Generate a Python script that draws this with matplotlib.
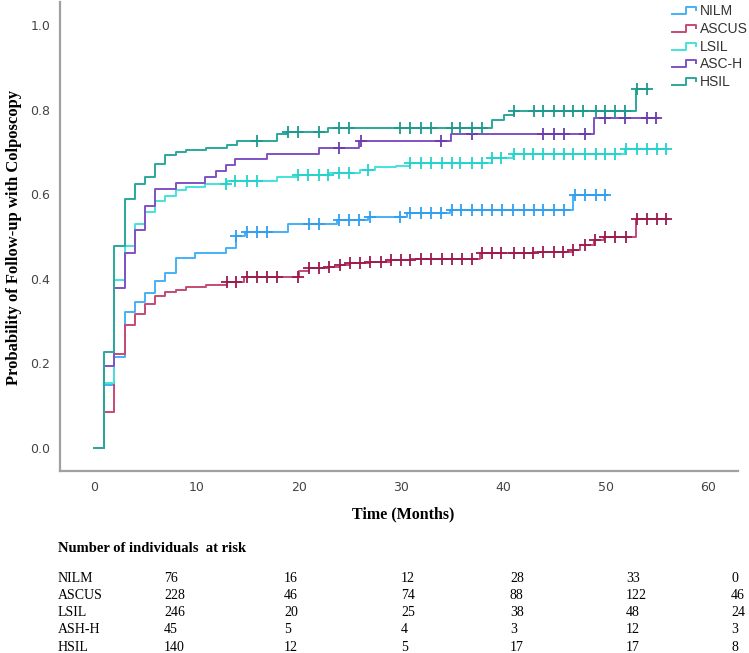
import numpy as np
import matplotlib
matplotlib.use('Agg')
import matplotlib.pyplot as plt
from matplotlib.lines import Line2D

W, H = 749, 653

groups = ['NILM', 'ASCUS', 'LSIL', 'ASC-H', 'HSIL']
line_colors = ['#45b1f7', '#c64a74', '#45e3dc', '#7f52c4', '#2aa99c']
mark_colors = ['#2f9ff0', '#9c1a4c', '#22d3cc', '#6a3bb0', '#1d9a8d']

# step curves: event times and cumulative probability after each step
nilm_t = [0, 1, 2, 3, 4, 5, 6, 7, 8, 9.9, 12.9, 13.9, 14.8, 19, 23.7, 26.8, 30.6, 34.8, 46.8, 50.1]
nilm_v = [0, 0.15, 0.216, 0.322, 0.346, 0.366, 0.395, 0.414, 0.45, 0.462, 0.474, 0.501, 0.511,
          0.53, 0.539, 0.545, 0.555, 0.563, 0.598, 0.598]
nilm_c = [13.9, 15, 15.9, 16.9, 21, 22, 23.9, 24.9, 25.9, 27, 29.9, 30.9, 31.9, 32.9, 33.9, 35,
          35.9, 36.9, 37.9, 38.9, 39.9, 40.9, 42, 43, 43.9, 44.9, 45.9, 47, 48, 49, 49.9]

ascus_t = [0, 1, 2, 3, 4, 5, 6, 7, 8, 9, 11, 13, 14.7, 20, 21, 23, 24, 25, 27, 29, 31, 37.7,
           43, 46.8, 47.5, 48.8, 49.8, 52.9, 56.1]
ascus_v = [0, 0.085, 0.222, 0.291, 0.317, 0.34, 0.359, 0.368, 0.373, 0.38, 0.385, 0.392, 0.405,
           0.418, 0.425, 0.429, 0.433, 0.438, 0.44, 0.444, 0.448, 0.46, 0.464, 0.468, 0.48,
           0.492, 0.498, 0.541, 0.541]
ascus_c = [13, 13.9, 15, 15.9, 16.9, 17.9, 19.9, 21, 22, 23, 24, 25, 26, 27, 28, 29, 30, 30.9,
           31.9, 32.9, 34, 35, 36, 36.9, 37.9, 38.9, 39.8, 41, 42, 42.9, 43.9, 44.9, 45.8, 46.8,
           48, 48.9, 49.9, 50.9, 52, 53, 54, 55, 55.9]

lsil_t = [0, 1, 2, 3, 4, 5, 6, 7, 8, 9, 10.9, 13, 17.9, 19.9, 23, 26, 27.5, 29.5, 30.9, 38.9,
          40.9, 51.9, 56.1]
lsil_v = [0, 0.153, 0.397, 0.478, 0.53, 0.558, 0.584, 0.596, 0.61, 0.616, 0.623, 0.631, 0.64,
          0.646, 0.65, 0.658, 0.664, 0.667, 0.673, 0.685, 0.695, 0.707, 0.707]
lsil_c = [12.9, 13.8, 15, 15.9, 19.9, 20.9, 22, 22.9, 23.9, 24.9, 26.8, 30.9, 31.9, 32.9, 34,
          35, 35.8, 36.9, 37.9, 38.9, 39.8, 41, 42, 42.9, 43.9, 44.9, 45.9, 46.8, 48, 49, 49.9,
          50.9, 52, 53, 54, 55, 55.9]

asch_t = [0, 1, 2, 3, 4, 5, 6, 8, 10.9, 11.9, 12.9, 13.8, 16.9, 22, 25.9, 34.9, 48.8, 55.1]
asch_v = [0, 0.195, 0.379, 0.46, 0.515, 0.571, 0.612, 0.627, 0.641, 0.655, 0.67, 0.682, 0.696,
          0.709, 0.725, 0.742, 0.779, 0.779]
asch_c = [23.9, 26.1, 33.9, 36.9, 43.9, 44.9, 45.9, 48, 49.9, 51.9, 54, 54.9]

hsil_t = [0, 1, 2, 3, 4, 5, 6, 7, 8, 9, 11, 13, 14, 17.9, 18.9, 22.9, 38.9, 40.1, 41, 52.9, 54.1]
hsil_v = [0, 0.228, 0.478, 0.588, 0.624, 0.641, 0.671, 0.693, 0.699, 0.704, 0.71, 0.716, 0.726,
          0.742, 0.748, 0.756, 0.775, 0.787, 0.797, 0.848, 0.848]
hsil_c = [15.9, 19, 19.9, 22, 23.9, 24.9, 29.9, 30.9, 31.9, 32.9, 35, 35.8, 36.9, 37.9, 41,
          43, 43.9, 44.9, 45.9, 46.8, 47.8, 49, 49.9, 50.9, 51.9, 53, 54]

times = [nilm_t, ascus_t, lsil_t, asch_t, hsil_t]
values = [nilm_v, ascus_v, lsil_v, asch_v, hsil_v]
censors = [nilm_c, ascus_c, lsil_c, asch_c, hsil_c]

# number at risk table
risk_rows = ['NILM', 'ASCUS', 'LSIL', 'ASH-H', 'HSIL']
risk_vals = [[76, 16, 12, 28, 33, 0],
             [228, 46, 74, 88, 122, 46],
             [246, 20, 25, 38, 48, 24],
             [45, 5, 4, 3, 12, 3],
             [140, 12, 5, 17, 17, 8]]


def fx(px):
    return px / W


def fy(py):
    return 1 - py / H


fig = plt.figure(figsize=(W / 100, H / 100), dpi=100)
ax = fig.add_axes([fx(60), fy(471), fx(738) - fx(60), fy(2) - fy(471)])

# draw curves, last group on top like the reference
for i in range(len(groups)):
    t = np.array(times[i])
    v = np.array(values[i])
    ax.step(t, v, where='post', color=line_colors[i], lw=1.4, zorder=2 + i)
    c = np.array(censors[i])
    idx = np.searchsorted(t, c, side='right') - 1
    ax.plot(c, v[idx], ls='none', marker='+', ms=8, mew=1.3,
            color=mark_colors[i], zorder=3 + i)

ax.set_xlim(-3.3, 62.9)
ax.set_ylim(-0.054, 1.054)
ax.set_xticks(range(0, 61, 10))
ax.set_yticks([0, 0.2, 0.4, 0.6, 0.8, 1.0])
ax.set_yticklabels(['0.0', '0.2', '0.4', '0.6', '0.8', '1.0'])
ax.tick_params(length=0, labelsize=9, labelcolor='#444444', pad=7)
for s in ['top', 'right']:
    ax.spines[s].set_visible(False)
for s in ['left', 'bottom']:
    ax.spines[s].set_color('#a0a0a0')
    ax.spines[s].set_linewidth(1.6)

serif = 'Liberation Serif'
fig.text(fx(14), fy(237), 'Probability of Follow-up with Colposcopy', rotation=90,
         ha='center', va='center', family=serif, weight='bold', fontsize=12)
fig.text(fx(403), fy(514), 'Time (Months)', ha='center', va='center',
         family=serif, weight='bold', fontsize=11.5)

# legend with step-shaped icons
for i, g in enumerate(groups):
    yy = 11 + i * 17.8
    xs = [672, 686, 686, 696, 696]
    ys = [yy + 3, yy + 3, yy - 4, yy - 4, yy - 1]
    fig.add_artist(Line2D([fx(x) for x in xs], [fy(y) for y in ys],
                          color=line_colors[i], lw=1.4))
    fig.text(fx(700), fy(yy), g, ha='left', va='center', family='Liberation Sans',
             fontsize=10, color='#333333')

# risk table
fig.text(fx(58), fy(549), 'Number of individuals  at risk', ha='left', va='center',
         family=serif, weight='bold', fontsize=10.5)
col_x = [164, 284, 401, 510, 626, 731]
for r, name in enumerate(risk_rows):
    yy = 578 + r * 17.3
    fig.text(fx(58), fy(yy), name, ha='left', va='center', family=serif, fontsize=10)
    for j, val in enumerate(risk_vals[r]):
        fig.text(fx(col_x[j]), fy(yy), str(val), ha='left', va='center',
                 family=serif, fontsize=10)

fig.savefig('out.png', dpi=100)
